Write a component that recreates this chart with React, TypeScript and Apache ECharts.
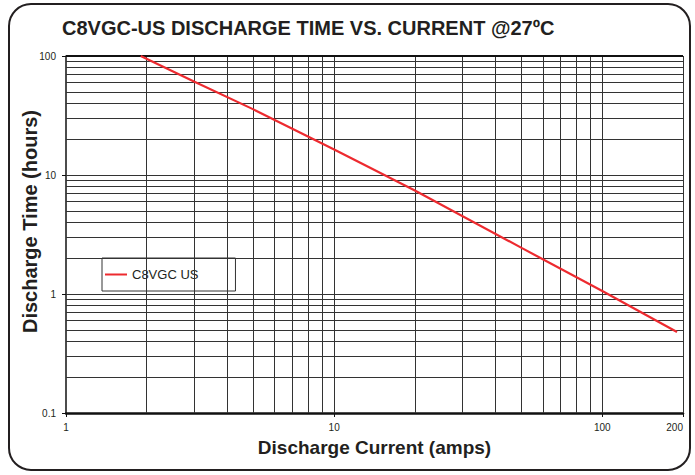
import React, { useEffect, useRef } from "react";
import * as echarts from "echarts";

const currentAmps = [1.9, 3, 5, 10, 20, 50, 100, 190];
const dischargeHours = [100, 61, 35.6, 16.4, 7.4, 2.44, 1.06, 0.48];
const xGridValues = [2, 3, 4, 5, 6, 7, 8, 9, 10, 20, 30, 40, 50, 60, 70, 80, 90, 100, 200];
const yGridValues = [
  0.2, 0.3, 0.4, 0.5, 0.6, 0.7, 0.8, 0.9, 1, 2, 3, 4, 5, 6, 7, 8, 9, 10, 20, 30, 40, 50, 60, 70,
  80, 90,
];
const yTopValue = 100;
const seriesName = "C8VGC US";
const titleText = "C8VGC-US DISCHARGE TIME VS. CURRENT @27ºC";

export default function App() {
  const ref = useRef<HTMLDivElement>(null);
  useEffect(() => {
    document.body.style.margin = "0";
    if (!ref.current) return;
    const chart = echarts.init(ref.current, null, { renderer: "svg" });
    const font = "'Liberation Sans', Arial, Helvetica, sans-serif";
    const gridLine = { color: "#333333", width: 1, type: "solid" as const };
    chart.setOption({
      animation: false,
      backgroundColor: "#ffffff",
      textStyle: { fontFamily: font },
      title: {
        text: titleText,
        left: 62,
        top: 18,
        padding: 0,
        textStyle: { fontFamily: font, fontWeight: "bold", fontSize: 20, color: "#231f20" },
      },
      grid: { left: 66, right: 12, top: 56, bottom: 62 },
      legend: {
        left: 102,
        top: 258,
        orient: "vertical",
        padding: [10, 37, 10, 3],
        itemWidth: 22,
        itemHeight: 2,
        itemGap: 0,
        backgroundColor: "#ffffff",
        borderColor: "#333333",
        borderWidth: 1,
        data: [{ name: seriesName, icon: "rect" }],
        textStyle: { fontFamily: font, fontSize: 13, color: "#231f20" },
      },
      graphic: [
        {
          type: "rect",
          shape: { x: 9, y: 4, width: 681, height: 466, r: 22 },
          style: { fill: "none", stroke: "#231f20", lineWidth: 2 },
          silent: true,
          z: 100,
        },
      ],
      xAxis: {
        type: "log",
        logBase: 10,
        min: 1,
        max: 200,
        name: "Discharge Current (amps)",
        nameLocation: "middle",
        nameGap: 25,
        nameTextStyle: { fontFamily: font, fontWeight: "bold", fontSize: 19, color: "#231f20" },
        axisLine: { show: true, lineStyle: { color: "#111111", width: 2.5 } },
        axisTick: { show: true, length: 4, lineStyle: { color: "#111111" } },
        axisLabel: {
          fontFamily: font,
          fontSize: 10,
          color: "#231f20",
          margin: 9,
          alignMaxLabel: "right",
          formatter: (v: number) => String(Math.round(v * 100) / 100),
        },
        splitLine: { show: false },
      },
      yAxis: {
        type: "log",
        logBase: 10,
        min: 0.1,
        max: 100,
        name: "Discharge Time (hours)",
        nameLocation: "middle",
        nameGap: 26,
        nameMoveOverlap: false,
        nameTextStyle: {
          fontFamily: font,
          fontWeight: "bold",
          fontSize: 20,
          color: "#231f20",
          padding: [0, 0, 0, 26],
        },
        axisLine: { show: true, lineStyle: { color: "#111111", width: 1.5 } },
        axisTick: { show: true, length: 4, lineStyle: { color: "#111111" } },
        axisLabel: {
          fontFamily: font,
          fontSize: 10,
          color: "#231f20",
          margin: 10,
          formatter: (v: number) => String(Math.round(v * 100) / 100),
        },
        splitLine: { show: false },
      },
      series: [
        {
          name: "grid",
          type: "line",
          data: [],
          silent: true,
          z: 1,
          markLine: {
            silent: true,
            symbol: ["none", "none"],
            label: { show: false },
            animation: false,
            data: [
              ...xGridValues.map((v) => ({ xAxis: v, lineStyle: gridLine })),
              ...yGridValues.map((v) => ({ yAxis: v, lineStyle: gridLine })),
              { yAxis: yTopValue, lineStyle: { color: "#111111", width: 2, type: "solid" } },
            ],
          },
        },
        {
          name: seriesName,
          type: "line",
          symbol: "none",
          z: 5,
          lineStyle: { color: "#ed2a2f", width: 2.2 },
          itemStyle: { color: "#ed2a2f" },
          data: currentAmps.map((x, i) => [x, dischargeHours[i]]),
        },
      ],
    });
    return () => chart.dispose();
  }, []);
  return <div ref={ref} style={{ width: 695, height: 475 }} />;
}
